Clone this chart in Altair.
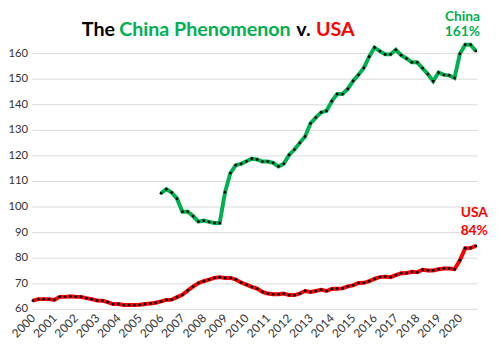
import altair as alt
import pandas as pd

# quarterly index: 0 = 2000 Q1 ... 83 = 2020 Q4
usa_values = [63.2, 63.8, 63.8, 63.8, 63.5, 64.7, 64.7, 64.9, 64.7, 64.7, 64.2, 63.8,
              63.3, 63.2, 62.6, 61.9, 61.9, 61.5, 61.5, 61.5, 61.6, 61.9, 62.1, 62.4,
              62.9, 63.5, 63.6, 64.6, 65.5, 67.2, 68.7, 70.1, 70.8, 71.4, 72.1, 72.4,
              72.1, 72.1, 71.5, 70.3, 69.5, 68.6, 67.9, 66.6, 66.0, 65.7, 65.7, 66.0,
              65.4, 65.4, 66.0, 67.0, 66.6, 67.0, 67.5, 67.0, 67.8, 67.9, 68.0, 68.8,
              69.2, 70.1, 70.2, 70.8, 71.7, 72.4, 72.6, 72.4, 73.2, 73.9, 74.0, 74.5,
              74.3, 75.3, 75.0, 75.0, 75.5, 75.8, 75.8, 75.5, 79.0, 83.7, 83.8, 84.6]
china_start = 24  # 2006 Q1
china_values = [105.2, 106.8, 105.5, 103.1, 98.0, 98.0, 96.3, 94.1, 94.5, 94.0, 93.6, 93.6,
                105.6, 113.1, 116.2, 116.7, 117.7, 118.7, 118.4, 117.6, 117.6, 117.1, 115.7, 116.7,
                120.2, 122.3, 124.9, 127.4, 132.5, 134.8, 136.8, 137.4, 141.2, 144.0, 144.0, 146.0,
                149.1, 151.5, 154.2, 158.6, 162.2, 160.8, 159.5, 159.5, 161.3, 159.2, 157.9, 156.4,
                156.4, 154.1, 151.8, 149.0, 152.4, 151.5, 151.3, 150.3, 159.7, 163.3, 163.3, 160.8]
year_ticks = list(range(0, 84, 4))
y_ticks = list(range(60, 161, 10))

GREEN = "#00B050"
RED = "#FF0000"
FONT = "Lato"

usa = pd.DataFrame({"q": list(range(len(usa_values))), "v": usa_values})
china = pd.DataFrame({"q": list(range(china_start, china_start + len(china_values))), "v": china_values})

xs = alt.Scale(domain=[-0.25, 83.25], nice=False, zero=False)
ys = alt.Scale(domain=[60, 165], nice=False, zero=False)

x_enc = alt.X("q:Q", scale=xs, axis=alt.Axis(
    values=year_ticks, labelExpr="2000 + datum.value / 4", title=None, grid=False,
    domain=False, ticks=False, labelAngle=315, labelAlign="right", labelBaseline="middle",
    labelPadding=7, labelFont=FONT, labelFontSize=12, labelColor="#333333",
    labelOverlap=False))
y_enc = alt.Y("v:Q", scale=ys, axis=alt.Axis(
    values=y_ticks, title=None, grid=True, gridColor="#D9D9D9", gridWidth=1,
    domain=False, ticks=False, labelPadding=4, labelFont=FONT, labelFontSize=11.5,
    labelColor="#333333"))

def series(df, color):
    line = alt.Chart(df).mark_line(color=color, strokeWidth=4).encode(x=x_enc, y=y_enc)
    pts = alt.Chart(df).mark_point(filled=True, color="black", size=8, opacity=1).encode(x=x_enc, y=y_enc)
    return line + pts

def txt(s, x, y, color, size, align="left"):
    return alt.Chart(pd.DataFrame({"t": [s]})).mark_text(
        text=s, color=color, font=FONT, fontSize=size, fontWeight="bold",
        align=align, baseline="middle").encode(x=alt.value(x), y=alt.value(y))

title_parts = (txt("The", 51, -10, "black", 20) + txt("China Phenomenon", 89, -10, GREEN, 20)
               + txt("v.", 269, -10, "black", 20) + txt("USA", 289, -10, RED, 20))
ann = (txt("China", 438, -24, GREEN, 14, "center") + txt("161%", 438, -8, GREEN, 14, "center")
       + txt("USA", 450, 176, RED, 14, "center") + txt("84%", 450, 194, RED, 14, "center"))

chart = alt.layer(series(usa, RED), series(china, GREEN), title_parts, ann).properties(
    width=453, height=273,
    autosize=alt.AutoSizeParams(type="none"),
    padding={"left": 24, "top": 30, "right": 13, "bottom": 42},
).configure_view(stroke=None)

chart.save("out.html", embed_options={"renderer": "svg", "actions": False})
